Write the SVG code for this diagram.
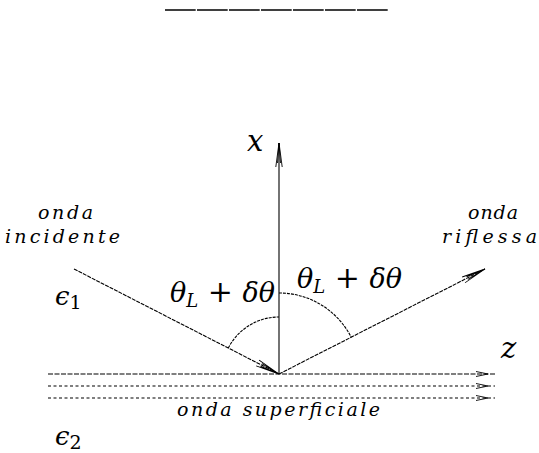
<svg xmlns="http://www.w3.org/2000/svg" xmlns:xlink="http://www.w3.org/1999/xlink" width="539" height="453" viewBox="0 0 539 453">
<style>
.ln{fill:none;stroke:#000;stroke-width:1.1}
.dash{stroke-dasharray:4 1}
.arc{fill:none;stroke:#000;stroke-width:1.1;stroke-dasharray:3 1}
.h1{stroke-dasharray:5 1.5}
.h2{stroke-dasharray:3 2.5}
.ah{fill:none;stroke:#000;stroke-width:0.9}
.lbl{font-family:'DejaVu Serif','Liberation Serif',serif;font-style:italic;fill:#000}
.up{font-style:normal}
</style>
<defs>
<path id="arr" class="ah" d="M-24,-3.2 L0,0 L-24,3.2 M-20,-1.5 L0,0 L-20,1.5"/>
<path id="arrs" class="ah" d="M-12,-2.5 L0,0 L-12,2.5"/>
</defs>
<rect width="539" height="453" fill="#fff"/>
<line x1="165" y1="10" x2="388" y2="10" stroke="#000" stroke-width="1.4" stroke-dasharray="30.7 1.3"/>
<g id="connectors">
<line id="axis-x" class="ln" x1="279" y1="374" x2="279" y2="143"/>
<use xlink:href="#arr" transform="translate(279,143) rotate(-90)"/>
<line id="incidente" class="ln dash" x1="74" y1="269" x2="279" y2="374"/>
<use xlink:href="#arr" transform="translate(279,374) rotate(27.1)"/>
<line id="riflessa" class="ln dash" x1="279" y1="374" x2="485" y2="269"/>
<use xlink:href="#arr" transform="translate(485,269) rotate(-27)"/>
<line class="ln h1" x1="48" y1="374" x2="495" y2="374"/>
<use xlink:href="#arrs" transform="translate(488,374)"/>
<line class="ln h2" x1="48" y1="386" x2="495" y2="386"/>
<use xlink:href="#arrs" transform="translate(488,386)"/>
<line class="ln h2" x1="48" y1="398" x2="495" y2="398"/>
<use xlink:href="#arrs" transform="translate(488,398)"/>
<path class="arc" d="M228.3,348 A57,57 0 0 1 279,317"/>
<path class="arc" d="M279,293 A81,81 0 0 1 351.2,337.2"/>
</g>
<g id="label-x"><text class="lbl" x="247" y="151" font-size="29">x</text></g>
<g id="label-z"><text class="lbl" x="501" y="358" font-size="29">z</text></g>
<g id="onda-incidente">
<text class="lbl" x="38" y="219" font-size="19" textLength="55" lengthAdjust="spacing">onda</text>
<text class="lbl" x="5" y="243" font-size="19" textLength="115" lengthAdjust="spacing">incidente</text>
</g>
<g id="onda-riflessa">
<text class="lbl" x="468" y="219" font-size="19" textLength="50" lengthAdjust="spacing">onda</text>
<text class="lbl" x="442" y="243" font-size="19" textLength="95" lengthAdjust="spacing">riflessa</text>
</g>
<g id="onda-superficiale">
<text class="lbl" x="177" y="416" font-size="19" textLength="203" lengthAdjust="spacing">onda  superficiale</text>
</g>
<g id="eps1"><text class="lbl" x="55" y="305" font-size="26">ϵ<tspan class="up" font-size="19" dy="4">1</tspan></text></g>
<g id="eps2"><text class="lbl" x="55" y="445" font-size="26">ϵ<tspan class="up" font-size="19" dy="4">2</tspan></text></g>
<g id="theta-left"><text class="lbl" x="170" y="302" font-size="27">θ<tspan font-size="18" dy="5">L</tspan><tspan class="up" dy="-5" font-size="30"> + </tspan>δθ</text></g>
<g id="theta-right"><text class="lbl" x="297" y="288" font-size="27">θ<tspan font-size="18" dy="5">L</tspan><tspan class="up" dy="-5" font-size="30"> + </tspan>δθ</text></g>
</svg>
